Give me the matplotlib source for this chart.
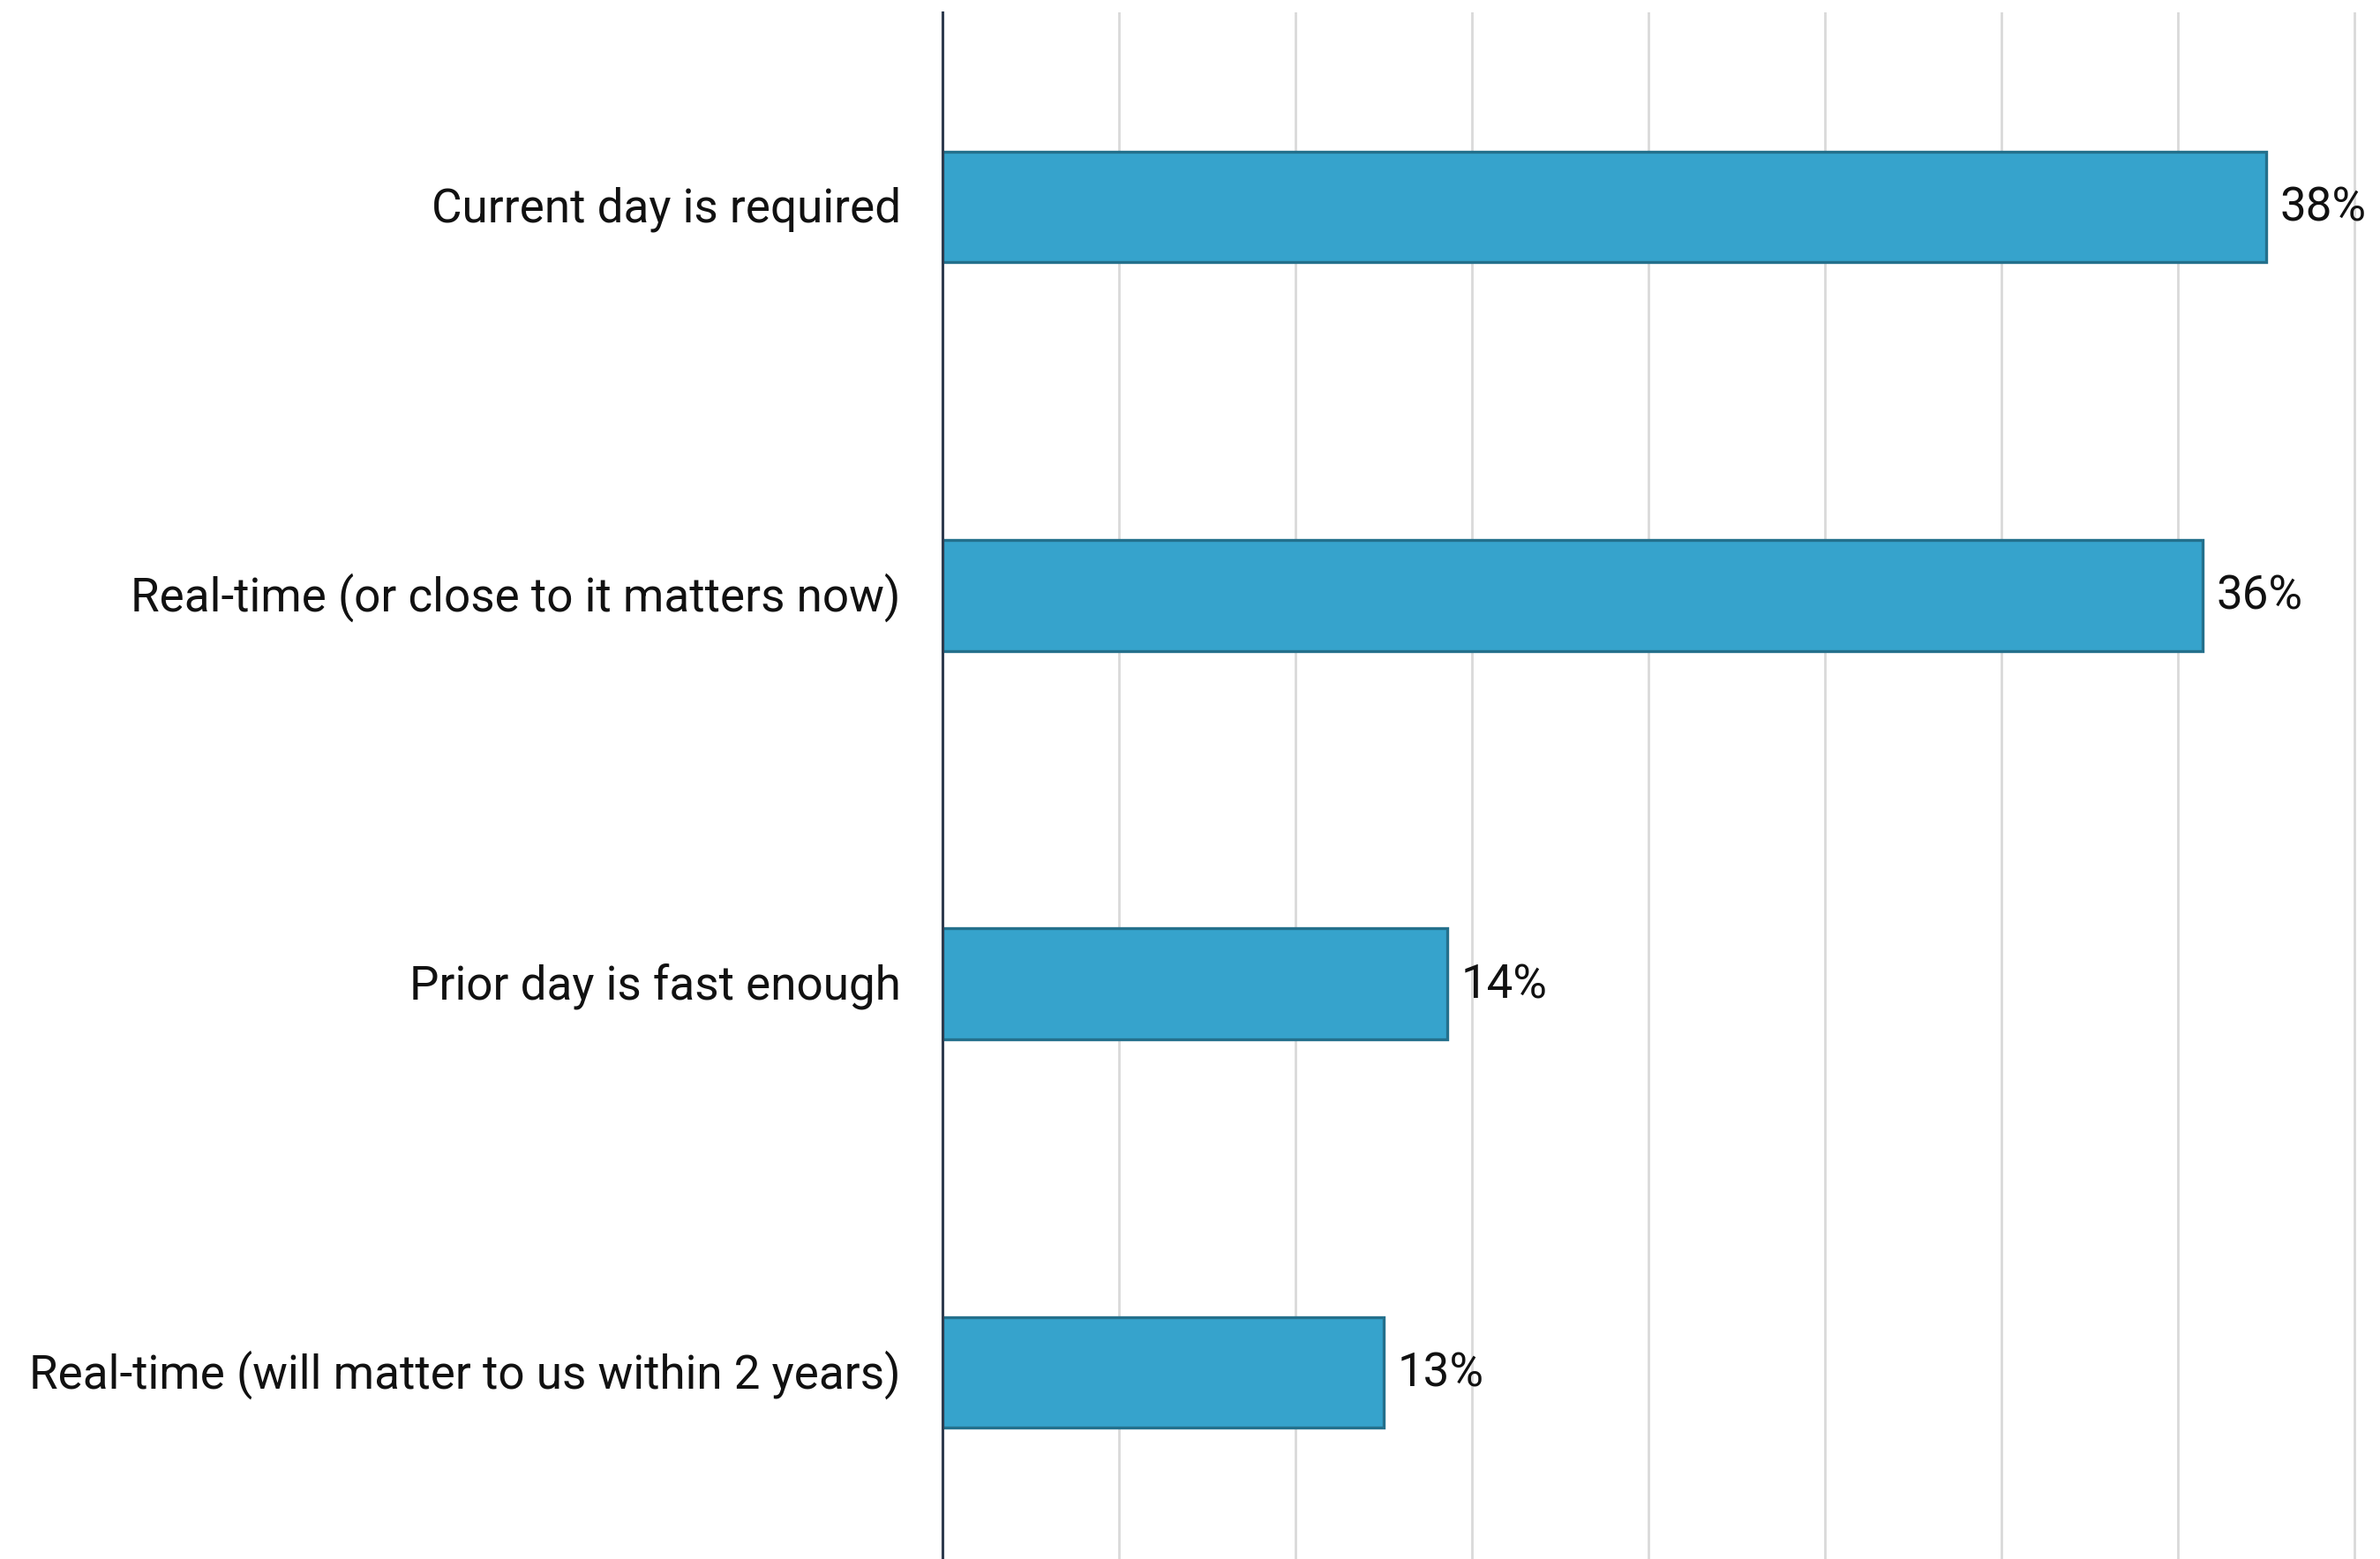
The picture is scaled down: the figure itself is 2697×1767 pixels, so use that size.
import matplotlib.pyplot as plt
import matplotlib.transforms as mtransforms

# Datos
categorias = [
    "Current day is required",
    "Real-time (or close to it matters now)",
    "Prior day is fast enough",
    "Real-time (will matter to us within 2 years)",
]
valores = [37.5, 35.7, 14.3, 12.5]
etiquetas = ["38%", "36%", "14%", "13%"]
ticks_x = [5, 10, 15, 20, 25, 30, 35, 40]

plt.rcParams["font.family"] = ["Roboto", "DejaVu Sans"]

fig = plt.figure(figsize=(13.485, 8.835), dpi=200)
ax = fig.add_axes([0.396, 0.0, 0.604, 0.992])

y = list(range(len(categorias)))
ax.barh(y, valores, height=0.285, color="#36a3cc", edgecolor="#24708c",
        linewidth=1.2, zorder=3)

for yi, v, lab in zip(y, valores, etiquetas):
    ax.annotate(lab, (v, yi), xytext=(5.5, -0.5), textcoords="offset points",
                va="center", ha="left", fontsize=19, color="#111111")

ax.set_xlim(0, 40.72)
ax.set_ylim(3.48, -0.50)
ax.set_yticks(y)
ax.set_yticklabels(categorias, fontsize=19.1, color="#111111")
ax.set_xticks(ticks_x)
ax.set_xticklabels([])
ax.tick_params(axis="both", length=0)
ax.tick_params(axis="y", pad=17)
ax.grid(axis="x", color="#d9d9d9", linewidth=1.0, zorder=0)

# subir un poco las etiquetas del eje y
desplazar = mtransforms.ScaledTranslation(0, 1.2 / 72, fig.dpi_scale_trans)
for t in ax.get_yticklabels():
    t.set_transform(t.get_transform() + desplazar)

for s in ["top", "right", "bottom"]:
    ax.spines[s].set_visible(False)
ax.spines["left"].set_color("#2e3b4e")
ax.spines["left"].set_linewidth(1.1)
ax.spines["left"].set_zorder(4)

plt.savefig("out.png", dpi=200)
plt.close()
